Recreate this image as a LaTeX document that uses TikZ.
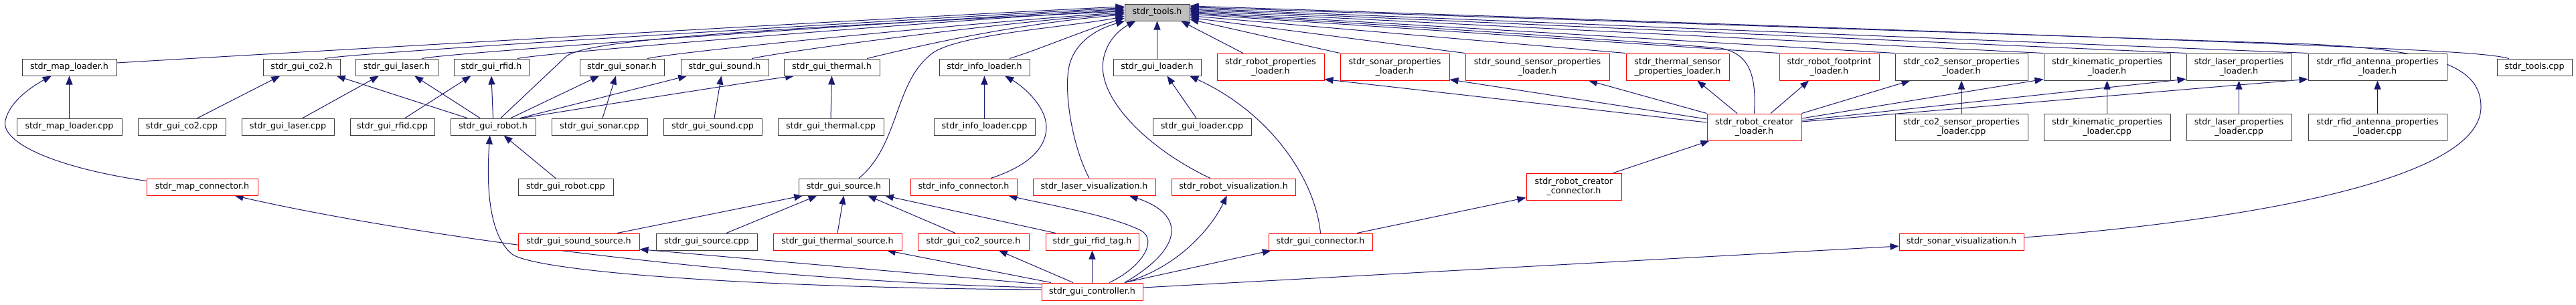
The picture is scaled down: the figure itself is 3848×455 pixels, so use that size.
\documentclass[tikz,border=0pt]{standalone}
\usepackage{fontspec}
\setmainfont{DejaVu Sans}
\usetikzlibrary{arrows.meta}
\definecolor{edgecol}{HTML}{191970}
\definecolor{nodeblack}{HTML}{404040}
\definecolor{nodered}{HTML}{FF0000}
\definecolor{toolsfill}{HTML}{BFBFBF}
\pgfdeclarelayer{background}
\pgfsetlayers{background,main}
\begin{document}
\begin{tikzpicture}[x=1pt,y=-1pt,
  box/.style={draw=nodeblack, line width=1pt, fill=white, inner sep=0pt, align=center,
    font=\fontsize{12.7}{14.3}\selectfont, minimum height=25pt},
  rbox/.style={box, draw=nodered},
  tall/.style={minimum height=40pt},
  edge/.style={draw=edgecol, line width=1pt, -{Triangle[length=13pt,width=10pt]}}]
\useasboundingbox (0,0) rectangle (3848,455);
% row 0
\node[box, fill=toolsfill, minimum width=97pt] (tools) at (1728.5,18.5) {stdr\_tools.h};
% row 1
\node[box, minimum width=141pt] (maploaderh) at (103.5,100.5) {stdr\_map\_loader.h};
\node[box, minimum width=115pt] (guico2h) at (450.5,100.5) {stdr\_gui\_co2.h};
\node[box, minimum width=123pt] (guilaserh) at (592.5,100.5) {stdr\_gui\_laser.h};
\node[box, minimum width=112pt] (guirfidh) at (734,100.5) {stdr\_gui\_rfid.h};
\node[box, minimum width=126pt] (guisonarh) at (929,100.5) {stdr\_gui\_sonar.h};
\node[box, minimum width=131pt] (guisoundh) at (1082.5,100.5) {stdr\_gui\_sound.h};
\node[box, minimum width=143pt] (guithermalh) at (1242.5,100.5) {stdr\_gui\_thermal.h};
\node[box, minimum width=135pt] (infoloaderh) at (1470.5,100.5) {stdr\_info\_loader.h};
\node[box, minimum width=131pt] (guiloaderh) at (1728.5,100.5) {stdr\_gui\_loader.h};
\node[rbox, tall, minimum width=160pt] (robotproph) at (1898,100) {stdr\_robot\_properties\\\_loader.h};
\node[rbox, tall, minimum width=163pt] (sonarproph) at (2083.5,100) {stdr\_sonar\_properties\\\_loader.h};
\node[rbox, tall, minimum width=215pt] (soundproph) at (2296.5,100) {stdr\_sound\_sensor\_properties\\\_loader.h};
\node[rbox, tall, minimum width=154pt] (thermalproph) at (2506,100) {stdr\_thermal\_sensor\\\_properties\_loader.h};
\node[rbox, tall, minimum width=149pt] (footprinth) at (2732.5,100) {stdr\_robot\_footprint\\\_loader.h};
\node[box, tall, minimum width=198pt] (co2proph) at (2930,100) {stdr\_co2\_sensor\_properties\\\_loader.h};
\node[box, tall, minimum width=189pt] (kinproph) at (3147.5,100) {stdr\_kinematic\_properties\\\_loader.h};
\node[box, tall, minimum width=157pt] (laserproph) at (3344.5,100) {stdr\_laser\_properties\\\_loader.h};
\node[box, tall, minimum width=207pt] (rfidproph) at (3551.5,100) {stdr\_rfid\_antenna\_properties\\\_loader.h};
\node[box, minimum width=112pt] (toolscpp) at (3786,100.5) {stdr\_tools.cpp};
% row 2
\node[box, minimum width=157pt] (maploadercpp) at (103.5,189.5) {stdr\_map\_loader.cpp};
\node[box, minimum width=131pt] (guico2cpp) at (271.5,189.5) {stdr\_gui\_co2.cpp};
\node[box, minimum width=138pt] (guilasercpp) at (430,189.5) {stdr\_gui\_laser.cpp};
\node[box, minimum width=126pt] (guirfidcpp) at (586,189.5) {stdr\_gui\_rfid.cpp};
\node[box, minimum width=127pt] (guiroboth) at (736.5,189.5) {stdr\_gui\_robot.h};
\node[box, minimum width=143pt] (guisonarcpp) at (895.5,189.5) {stdr\_gui\_sonar.cpp};
\node[box, minimum width=147pt] (guisoundcpp) at (1064.5,189.5) {stdr\_gui\_sound.cpp};
\node[box, minimum width=158pt] (guithermalcpp) at (1241,189.5) {stdr\_gui\_thermal.cpp};
\node[box, minimum width=151pt] (infoloadercpp) at (1470.5,189.5) {stdr\_info\_loader.cpp};
\node[box, minimum width=147pt] (guiloadercpp) at (1795.5,189.5) {stdr\_gui\_loader.cpp};
\node[rbox, tall, minimum width=141pt] (creatorloaderh) at (2620.5,190) {stdr\_robot\_creator\\\_loader.h};
\node[box, tall, minimum width=198pt] (co2cpp) at (2930,190) {stdr\_co2\_sensor\_properties\\\_loader.cpp};
\node[box, tall, minimum width=189pt] (kincpp) at (3147.5,190) {stdr\_kinematic\_properties\\\_loader.cpp};
\node[box, tall, minimum width=157pt] (lasercpp) at (3344.5,190) {stdr\_laser\_properties\\\_loader.cpp};
\node[box, tall, minimum width=207pt] (rfidcpp) at (3551.5,190) {stdr\_rfid\_antenna\_properties\\\_loader.cpp};
% row 3
\node[rbox, minimum width=166pt] (mapconnectorh) at (302,279.5) {stdr\_map\_connector.h};
\node[box, minimum width=142pt] (guirobotcpp) at (845,279.5) {stdr\_gui\_robot.cpp};
\node[box, minimum width=135pt] (guisourceh) at (1260.5,279.5) {stdr\_gui\_source.h};
\node[rbox, minimum width=159pt] (infoconnectorh) at (1439.5,279.5) {stdr\_info\_connector.h};
\node[rbox, minimum width=183pt] (laservish) at (1634.5,279.5) {stdr\_laser\_visualization.h};
\node[rbox, minimum width=185pt] (robotvish) at (1842.5,279.5) {stdr\_robot\_visualization.h};
\node[rbox, tall, minimum width=142pt] (creatorconnectorh) at (2351,279) {stdr\_robot\_creator\\\_connector.h};
% row 4
\node[rbox, minimum width=181pt] (soundsourceh) at (864.5,361.5) {stdr\_gui\_sound\_source.h};
\node[box, minimum width=151pt] (guisourcecpp) at (1055.5,361.5) {stdr\_gui\_source.cpp};
\node[rbox, minimum width=192pt] (thermalsourceh) at (1251,361.5) {stdr\_gui\_thermal\_source.h};
\node[rbox, minimum width=166pt] (co2sourceh) at (1454,361.5) {stdr\_gui\_co2\_source.h};
\node[rbox, minimum width=139pt] (rfidtagh) at (1631.5,361.5) {stdr\_gui\_rfid\_tag.h};
\node[rbox, minimum width=155pt] (guiconnectorh) at (1972.5,361.5) {stdr\_gui\_connector.h};
\node[rbox, minimum width=186pt] (sonarvish) at (2930,361.5) {stdr\_sonar\_visualization.h};
% row 5
\node[rbox, minimum width=151pt, minimum height=26pt] (controllerh) at (1631.5,436) {stdr\_gui\_controller.h};

\begin{pgfonlayer}{background}
% edges into stdr_tools.h (left)
\draw[edge] ([yshift=6.5pt]maploaderh.east) .. controls +(80,-5) and +(-300,14) .. (tools.170);
\draw[edge] ([xshift=34.5pt]guico2h.north) .. controls +(50,-10) and +(-260,14) .. (tools.172);
\draw[edge] ([xshift=37.5pt]guilaserh.north) .. controls +(50,-10) and +(-250,14) .. (tools.174);
\draw[edge] ([xshift=39pt]guirfidh.north) .. controls +(50,-10) and +(-240,14) .. (tools.176);
\draw[edge] ([xshift=11.5pt]guiroboth.north) -- (846,84) .. controls (880,60) and (1100,45) .. (tools.178);
\draw[edge] ([xshift=38pt]guisonarh.north) .. controls +(50,-11) and +(-220,15) .. (tools.180);
\draw[edge] ([xshift=40.5pt]guisoundh.north) .. controls +(50,-11) and +(-200,15) .. (tools.182);
\draw[edge] ([xshift=52.5pt]guithermalh.north) .. controls +(50,-12) and +(-180,15) .. (tools.184);
\draw[edge] ([xshift=22.5pt]guisourceh.north) .. controls (1345,215) and (1335,120) .. (1395,78) .. controls (1440,50) and (1600,40) .. (tools.187);
\draw[edge] ([xshift=37.5pt]infoloaderh.north) .. controls +(40,-12) and +(-60,18) .. (tools.190);
\draw[edge] ([xshift=-7.5pt]laservish.north) .. controls (1600,215) and (1588,130) .. (1598,95) .. controls (1610,55) and (1650,40) .. (tools.195);
\draw[edge] ([xshift=-34.5pt]robotvish.north) .. controls (1720,225) and (1655,160) .. (1648,110) .. controls (1643,75) and (1665,48) .. (tools.202);
\draw[edge] (guiloaderh.north) -- (tools.south);
% edges into stdr_tools.h (right)
\draw[edge] ([xshift=-41pt]robotproph.north) -- (tools.-20);
\draw[edge] (sonarproph.north west) -- (tools.-12);
\draw[edge] (soundproph.north west) -- (tools.-9);
\draw[edge] (thermalproph.north west) -- (tools.-6);
\draw[edge] (footprinth.north west) -- (tools.-3);
\draw[edge] (creatorloaderh.north) .. controls (2624,110) and (2612,80) .. (2570,72) .. controls (2400,58) and (1950,30) .. (tools.-1);
\draw[edge] (co2proph.north west) -- (tools.1);
\draw[edge] (kinproph.north west) -- (tools.3);
\draw[edge] (laserproph.north west) -- (tools.5);
\draw[edge] (rfidproph.north west) -- (tools.7);
\draw[edge] ([yshift=6.5pt]sonarvish.east) .. controls (3350,330) and (3706,270) .. (3706,160) .. controls (3706,100) and (3640,75) .. (3450,66) -- (tools.9);
\draw[edge] ([xshift=-38pt]toolscpp.north) .. controls (3700,76) and (3600,70) .. (tools.11);
% left group
\draw[edge] (maploadercpp.north) -- (maploaderh.south);
\draw[edge] ([yshift=9pt]mapconnectorh.west) .. controls (90,252) and (0,215) .. (8,180) .. controls (15,150) and (50,128) .. (maploaderh.206);
\draw[edge] ([xshift=23.5pt]guico2cpp.north) -- (guico2h.202);
\draw[edge] ([xshift=-38.5pt]guiroboth.north) -- (guico2h.-14);
\draw[edge] ([xshift=22pt]guilasercpp.north) -- (guilaserh.206);
\draw[edge] ([xshift=-19.5pt]guiroboth.north) -- (guilaserh.-26);
\draw[edge] ([xshift=19pt]guirfidcpp.north) -- (guirfidh.203);
\draw[edge] (guiroboth.north) -- (guirfidh.south);
\draw[edge] ([xshift=26.5pt]guiroboth.north) -- (guisonarh.201);
\draw[edge] ([xshift=4.5pt]guisonarcpp.north) -- ([xshift=-9pt]guisonarh.south);
\draw[edge] ([xshift=40.5pt]guiroboth.north) -- (guisoundh.193);
\draw[edge] ([xshift=2.5pt]guisoundcpp.north) -- ([xshift=-5pt]guisoundh.south);
\draw[edge] ([xshift=43.5pt]guiroboth.north) .. controls +(60,-10) and +(-60,8) .. (guithermalh.193);
\draw[edge] (guithermalcpp.north) -- (guithermalh.south);
\draw[edge] ([xshift=-15pt]guirobotcpp.north) -- (guiroboth.-39);
% controller group
\draw[edge] ([yshift=3pt]controllerh.west) .. controls (1100,430) and (800,405) .. (765,380) .. controls (728,350) and (727,270) .. (guiroboth.250);
\draw[edge] ([yshift=6pt]controllerh.west) .. controls (1100,420) and (600,350) .. (mapconnectorh.-15);
\draw[edge] ([yshift=11pt]controllerh.west) -- (soundsourceh.-7);
\draw[edge] (infoloadercpp.north) -- (infoloaderh.south);
\draw[edge] ([xshift=40.5pt]infoconnectorh.north) .. controls (1530,250) and (1563,225) .. (1563,190) .. controls (1563,160) and (1530,130) .. (infoloaderh.-23);
\draw[edge] ([xshift=-8.5pt]guiloadercpp.north) -- (guiloaderh.-41);
\draw[edge] (guiconnectorh.north) .. controls (1965,270) and (1900,170) .. (guiloaderh.-15);
\draw[edge] ([xshift=57.5pt]soundsourceh.north) -- (guisourceh.192);
\draw[edge] ([xshift=29.5pt]guisourcecpp.north) -- (guisourceh.198);
\draw[edge] (thermalsourceh.north) -- (guisourceh.south);
\draw[edge] ([xshift=-27pt]co2sourceh.north) -- (guisourceh.-20);
\draw[edge] ([xshift=-54.5pt]rfidtagh.north) -- (guisourceh.-12);
\draw[edge] ([xshift=-61.5pt]controllerh.north) -- (thermalsourceh.-10);
\draw[edge] ([xshift=-28.5pt]controllerh.north) -- (co2sourceh.-19);
\draw[edge] (controllerh.north) -- (rfidtagh.south);
\draw[edge] ([xshift=25.5pt]controllerh.north) .. controls (1705,400) and (1730,360) .. (1705,345) .. controls (1660,322) and (1560,305) .. (infoconnectorh.-11);
\draw[edge] ([xshift=48.5pt]controllerh.north) .. controls (1770,370) and (1770,320) .. (laservish.-14);
\draw[edge] ([xshift=48.5pt]controllerh.north) .. controls (1760,400) and (1810,340) .. (robotvish.233);
\draw[edge] ([xshift=48.5pt]controllerh.north) -- (guiconnectorh.190);
\draw[edge] ([yshift=6pt]controllerh.east) -- (sonarvish.184);
% creator group
\draw[edge] ([xshift=54.5pt]guiconnectorh.north) -- (creatorconnectorh.193);
\draw[edge] ([xshift=59pt]creatorconnectorh.north) -- (creatorloaderh.197);
\draw[edge] ([yshift=7pt]creatorloaderh.west) -- (robotproph.-13);
\draw[edge] ([yshift=12pt]creatorloaderh.west) -- (sonarproph.-13);
\draw[edge] (creatorloaderh.north west) -- (soundproph.-15);
\draw[edge] ([xshift=-25.5pt]creatorloaderh.north) -- (thermalproph.-35);
\draw[edge] ([xshift=24.5pt]creatorloaderh.north) -- (footprinth.214);
\draw[edge] (creatorloaderh.north east) -- (co2proph.195);
\draw[edge] ([yshift=13pt]creatorloaderh.east) -- (kinproph.191);
\draw[edge] ([yshift=10pt]creatorloaderh.east) -- (laserproph.193);
\draw[edge] ([yshift=8pt]creatorloaderh.east) -- (rfidproph.190);
\draw[edge] (co2cpp.north) -- (co2proph.south);
\draw[edge] (kincpp.north) -- (kinproph.south);
\draw[edge] (lasercpp.north) -- (laserproph.south);
\draw[edge] (rfidcpp.north) -- (rfidproph.south);
\end{pgfonlayer}
\end{tikzpicture}
\end{document}
